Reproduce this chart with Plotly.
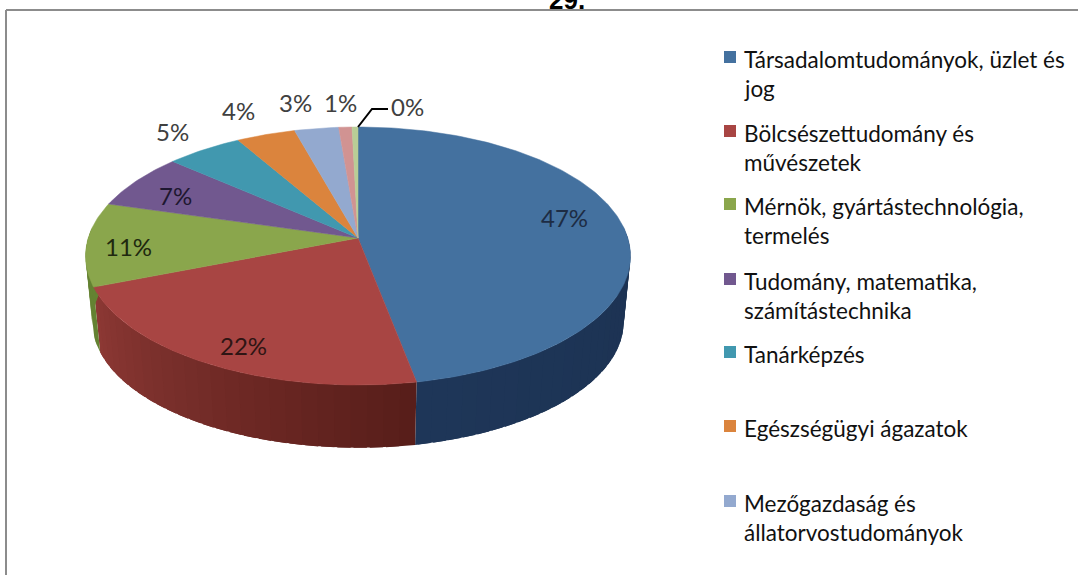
import math
import plotly.graph_objects as go

categories = ["Társadalomtudományok, üzlet és<br>jog", "Bölcsészettudomány és<br>művészetek",
              "Mérnök, gyártástechnológia,<br>termelés", "Tudomány, matematika,<br>számítástechnika",
              "Tanárképzés", "Egészségügyi ágazatok", "Mezőgazdaság és<br>állatorvostudományok",
              "Egyéb", "Nem ismert"]
values = [47.0, 22.0, 10.5, 7.0, 5.2, 4.0, 3.0, 0.9, 0.4]
value_labels = ["47%", "22%", "11%", "7%", "5%", "4%", "3%", "1%", "0%"]

colors = ["#44719F", "#A84543", "#8AA64C", "#71588F", "#4198AF", "#DB843D", "#93A9CF", "#D19392", "#B9CD96"]
wall_from = [(28, 50, 82), (88, 30, 26), (100, 130, 50)]
wall_to = [(30, 54, 88), (140, 56, 52), (100, 130, 50)]

label_pos = [(564, 217, "#1d2c44"), (243, 345, "#2f1514"), (128, 246, "#20280f"), (175, 195, "#1e1730"),
             (172, 131, "#404040"), (238, 110, "#404040"), (295, 102, "#404040"), (340, 102, "#404040"),
             (407, 106, "#404040")]
legend_rows = [59, 133, 206, 281, 354, 428, 503]
LEG_GAP = 29

CX, CY = 358.0, 238.0
A, B, K = 269.8, 126.5, 0.1395
BOT_S, BOT_CY = 0.975, 304.5


def project(deg, bottom=False):
    t = math.radians(deg)
    u, v = math.sin(t), math.cos(t)
    w = 1 + K * v
    s = BOT_S if bottom else 1.0
    y0 = BOT_CY if bottom else CY
    return CX + s * A * u / w, y0 - s * B * v / w


def arc(a, b, bottom=False):
    n = max(2, int(abs(b - a) / 1.0) + 1)
    pts = [project(a + (b - a) * i / (n - 1), bottom) for i in range(n)]
    return pts


fig = go.Figure()
total = sum(values)
edges = [0.0]
for val in values:
    edges.append(edges[-1] + val / total * 360)

# side wall, split in narrow bands so it can shade along its length
for i in range(3):
    a0, a1 = max(edges[i], 85), min(edges[i + 1], 275)
    bands = max(1, int((a1 - a0) / 3))
    for j in range(bands):
        t = j / max(1, bands - 1)
        col = tuple(round(wall_from[i][c] + (wall_to[i][c] - wall_from[i][c]) * t) for c in range(3))
        b0 = a0 + (a1 - a0) * j / bands
        b1 = min(a1, a0 + (a1 - a0) * (j + 1) / bands + 2.5)
        top = arc(b0, b1)
        bot = arc(b0, b1, True)[::-1]
        pts = top + bot
        rgb = f"rgb{col}".replace(" ", "")
        fig.add_trace(go.Scatter(x=[p[0] for p in pts], y=[p[1] for p in pts], mode="lines", fill="toself",
                                 fillcolor=rgb, line=dict(width=0), hoverinfo="skip", showlegend=False))

# top face
for i in range(len(values)):
    pts = [(CX, CY)] + arc(edges[i], edges[i + 1]) + [(CX, CY)]
    fig.add_trace(go.Scatter(x=[p[0] for p in pts], y=[p[1] for p in pts], mode="lines", fill="toself",
                             fillcolor=colors[i], line=dict(color=colors[i], width=0.5), hoverinfo="skip",
                             showlegend=False))

# leader line for the 0% slice
fig.add_trace(go.Scatter(x=[358, 372, 388], y=[127, 109, 109], mode="lines", line=dict(color="black", width=2),
                         hoverinfo="skip", showlegend=False))

# legend swatches
fig.add_trace(go.Scatter(x=[730] * len(legend_rows), y=[r - 2 for r in legend_rows], mode="markers",
                         marker=dict(symbol="square", size=12, color=colors[:len(legend_rows)]),
                         hoverinfo="skip", showlegend=False))

ann = []
for (x, y, col), txt in zip(label_pos, value_labels):
    ann.append(dict(x=x, y=y, text=txt, showarrow=False, xanchor="center", yanchor="middle",
                    font=dict(family="Lato", size=24, color=col)))
for r, name in zip(legend_rows, categories):
    lines = name.split("<br>")
    for k, line in enumerate(lines):
        ann.append(dict(x=742, y=r + k * LEG_GAP, text=line, showarrow=False, xanchor="left", yanchor="middle",
                        font=dict(family="Lato", size=22.5, color="#111111")))
ann.append(dict(x=567, xref="x", y=1.0, yref="paper", text="<b>29.</b>", showarrow=False, xanchor="center",
                yanchor="middle", font=dict(family="Liberation Sans", size=26, color="black")))

shapes = [dict(type="line", x0=6, y0=10, x1=1078, y1=10, line=dict(color="#8c8c8c", width=2)),
          dict(type="line", x0=6, y0=10, x1=6, y1=575, line=dict(color="#8c8c8c", width=2))]

fig.update_layout(width=1078, height=575, margin=dict(l=0, r=0, t=0, b=0), paper_bgcolor="white",
                  plot_bgcolor="white", annotations=ann, shapes=shapes,
                  xaxis=dict(range=[0, 1078], visible=False, fixedrange=True),
                  yaxis=dict(range=[575, 0], visible=False, fixedrange=True))
fig.write_html("out.html", config={"displayModeBar": False},
               post_script="document.body.style.margin='0';document.body.style.overflow='hidden';")
